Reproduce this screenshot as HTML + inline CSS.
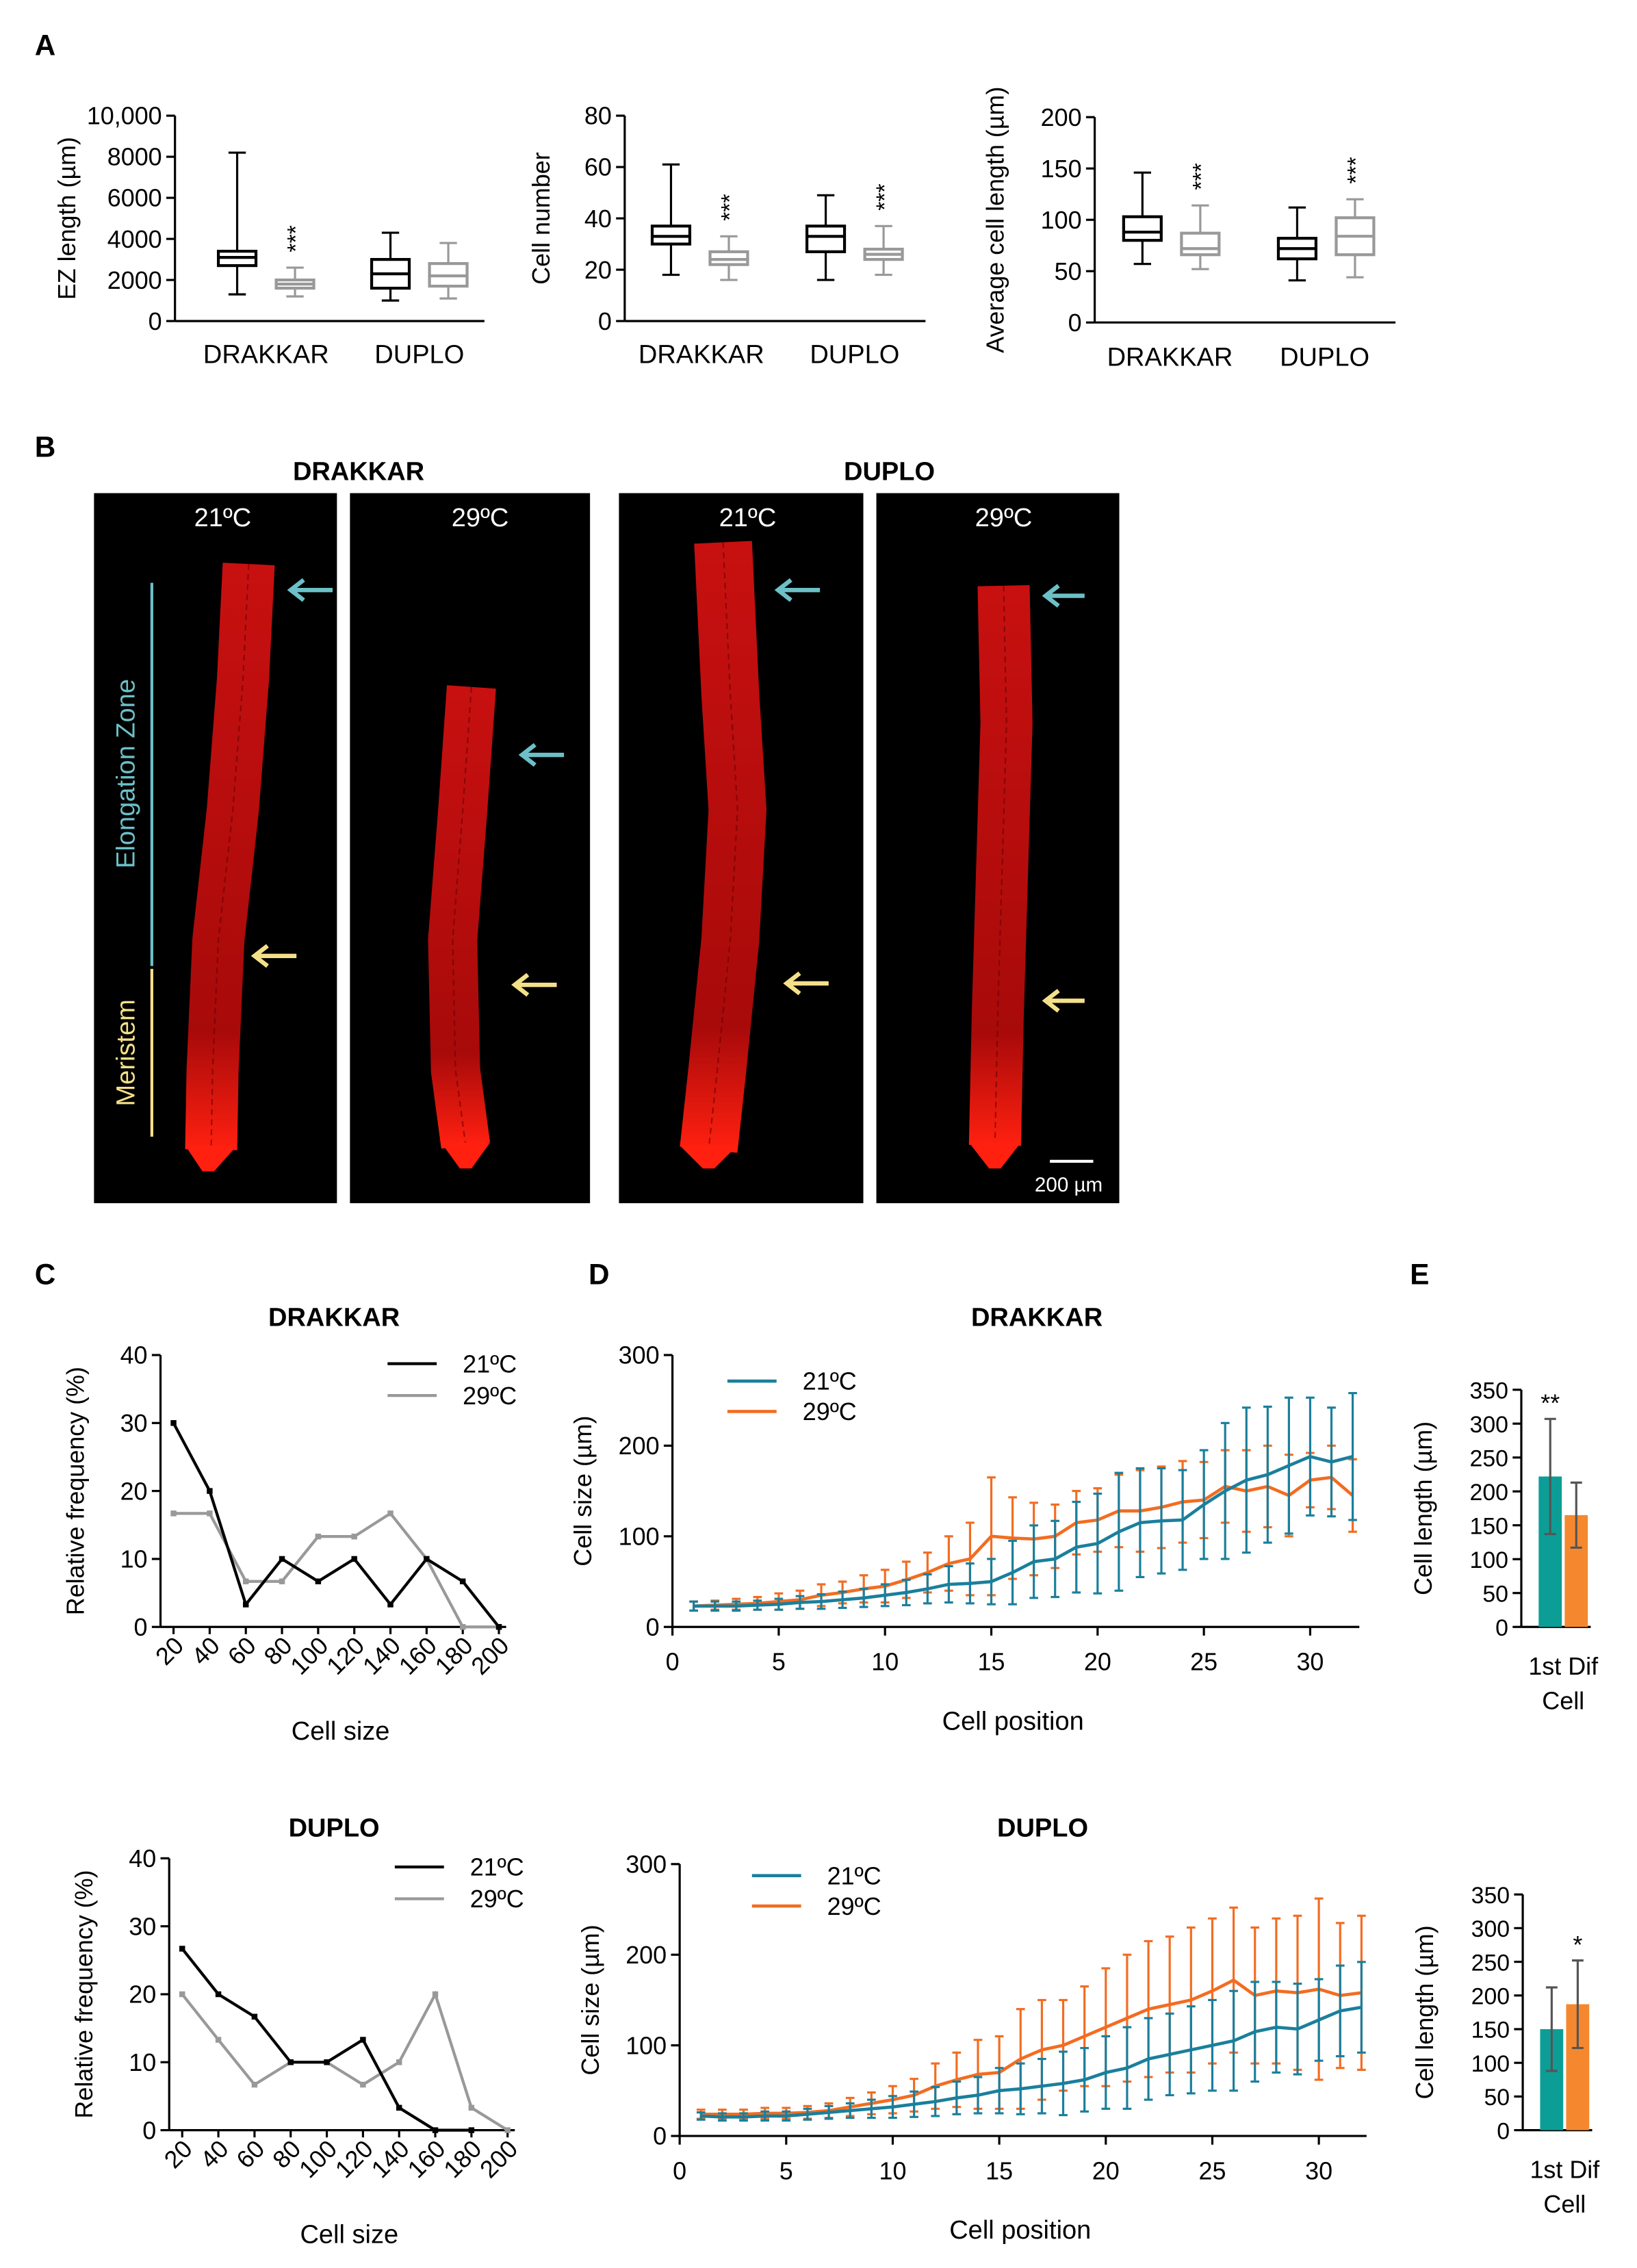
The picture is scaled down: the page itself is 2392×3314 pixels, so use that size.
<!DOCTYPE html>
<html><head><meta charset="utf-8"><style>
html,body{margin:0;padding:0;background:#fff;}
svg{display:block;font-family:"Liberation Sans",Arial,sans-serif;}
</style></head><body>
<svg id="fig" width="2392" height="3314" viewBox="0 0 1132 1568.3" preserveAspectRatio="none" xmlns="http://www.w3.org/2000/svg">
<rect x="0" y="0" width="1132" height="1568.3" fill="#fff"/>
<defs>
<linearGradient id="rootg" x1="0" y1="0" x2="0" y2="1">
<stop offset="0" stop-color="#c81010"/><stop offset="0.8" stop-color="#a80a0a"/><stop offset="1" stop-color="#ff2010"/>
</linearGradient>
</defs>
<g>
<text x="24" y="316" font-size="20" font-weight="bold">B</text>
<text x="248" y="332" font-size="18" font-weight="bold" text-anchor="middle">DRAKKAR</text>
<text x="615" y="332" font-size="18" font-weight="bold" text-anchor="middle">DUPLO</text>
<rect x="65" y="341" width="168" height="491" fill="#000"/>
<rect x="242" y="341" width="166" height="491" fill="#000"/>
<rect x="428" y="341" width="169" height="491" fill="#000"/>
<rect x="606" y="341" width="168" height="491" fill="#000"/>
<text x="154" y="364" font-size="18" fill="#fff" text-anchor="middle">21ºC</text>
<text x="332" y="364" font-size="18" fill="#fff" text-anchor="middle">29ºC</text>
<text x="517" y="364" font-size="18" fill="#fff" text-anchor="middle">21ºC</text>
<text x="694" y="364" font-size="18" fill="#fff" text-anchor="middle">29ºC</text>
<g fill="none" stroke-linejoin="round" stroke-linecap="butt">
<polyline points="172,390 168,470 161,560 151,650 147,740 146,795" stroke="url(#rootg)" stroke-width="36"/>
<polyline points="172,390 168,470 161,560 151,650 147,740 146,795" stroke="#600" stroke-width="1" stroke-dasharray="4 3" opacity="0.6"/>
<polyline points="326,475 320,560 313,650 315,740 322,792" stroke="url(#rootg)" stroke-width="34"/>
<polyline points="326,475 320,560 313,650 315,740 322,792" stroke="#600" stroke-width="1" stroke-dasharray="4 3" opacity="0.6"/>
<polyline points="500,375 505,480 510,560 505,650 496,740 490,795" stroke="url(#rootg)" stroke-width="40"/>
<polyline points="500,375 505,480 510,560 505,650 496,740 490,795" stroke="#600" stroke-width="1" stroke-dasharray="4 3" opacity="0.6"/>
<polyline points="694,405 696,500 693,600 690,700 688,792" stroke="url(#rootg)" stroke-width="36"/>
<polyline points="694,405 696,500 693,600 690,700 688,792" stroke="#600" stroke-width="1" stroke-dasharray="4 3" opacity="0.6"/>
</g>
<polygon points="128,792 164,792 148,810 140,810" fill="#ff2010"/>
<polygon points="305,790 339,790 326,808 318,808" fill="#ff2010"/>
<polygon points="470,792 510,792 494,808 486,808" fill="#ff2010"/>
<polygon points="670,790 706,790 692,808 684,808" fill="#ff2010"/>
<line x1="105" y1="403" x2="105" y2="668" stroke="#6cc0c8" stroke-width="2"/>
<line x1="105" y1="670" x2="105" y2="786" stroke="#f5e08a" stroke-width="2"/>
<text transform="translate(93,535) rotate(-90)" font-size="18" fill="#6cc0c8" text-anchor="middle">Elongation Zone</text>
<text transform="translate(93,728) rotate(-90)" font-size="18" fill="#f5e08a" text-anchor="middle">Meristem</text>
<g stroke="#6cc0c8" stroke-width="3" fill="none">
<path d="M230,408 H202 M210,401 L201,408 L210,415"/>
<path d="M390,522 H362 M370,515 L361,522 L370,529"/>
<path d="M567,408 H539 M547,401 L538,408 L547,415"/>
<path d="M750,412 H724 M732,405 L723,412 L732,419"/>
</g>
<g stroke="#f5e08a" stroke-width="3" fill="none">
<path d="M205,661 H177 M185,654 L176,661 L185,668"/>
<path d="M385,681 H357 M365,674 L356,681 L365,688"/>
<path d="M573,680 H545 M553,673 L544,680 L553,687"/>
<path d="M750,692 H724 M732,685 L723,692 L732,699"/>
</g>
<line x1="726" y1="803" x2="756" y2="803" stroke="#fff" stroke-width="2"/>
<text x="739" y="824" font-size="14" fill="#fff" text-anchor="middle">200 µm</text>
</g>
<g id="dyn"></g>
</svg>
<script>
// ---------- Panel A data ----------
const boxGroups = ["DRAKKAR","DUPLO"];
const ezLength = [[1300,2700,3100,3400,8200],[1200,1600,1800,2000,2600],[1000,1600,2300,3000,4300],[1100,1700,2200,2800,3800]];
const cellNumber = [[18,30,33,37,61],[16,22,24,27,33],[16,27,33,37,49],[18,24,26,28,37]];
const avgCellLen = [[57,80,88,103,146],[52,66,72,87,114],[41,62,72,82,112],[44,66,84,102,120]];
const ezStars = [false,true,false,false];
const cnStars = [false,true,false,true];
const aclStars = [false,true,false,true];
const ezTicks = [0,2000,4000,6000,8000,10000];
const ezTickLabels = ["0","2000","4000","6000","8000","10,000"];
const cnTicks = [0,20,40,60,80];
const aclTicks = [0,50,100,150,200];
// ---------- Panel C data ----------
const sizeCats = [20,40,60,80,100,120,140,160,180,200];
const cDrak21 = [30,20,3.3,10,6.7,10,3.3,10,6.7,0];
const cDrak29 = [16.7,16.7,6.7,6.7,13.3,13.3,16.7,10,0,0];
const cDup21 = [26.7,20,16.7,10,10,13.3,3.3,0,0,null];
const cDup29 = [20,13.3,6.7,10,10,6.7,10,20,3.3,0];
const cTicks = [0,10,20,30,40];
// ---------- Panel D data ----------
const positions = [1,2,3,4,5,6,7,8,9,10,11,12,13,14,15,16,17,18,19,20,21,22,23,24,25,26,27,28,29,30,31,32];
const dDrak21 = [23,23,23,24,25,27,28,30,32,35,38,42,47,48,50,60,72,75,88,92,105,115,117,118,135,150,162,168,178,188,182,188];
const dDrak21Err = [5,5,5,5,6,7,8,9,10,12,14,16,20,22,25,35,40,42,50,55,65,60,58,55,60,75,80,75,75,65,60,70];
const dDrak29 = [23,24,25,26,28,30,35,38,42,45,52,60,70,75,100,98,97,100,115,118,128,128,132,138,140,155,150,155,145,162,165,145];
const dDrak29Err = [5,5,6,7,9,10,12,12,15,18,20,22,30,40,65,45,40,35,35,35,40,45,45,45,42,40,45,45,45,30,35,40];
const dDup21 = [22,21,21,22,22,24,26,28,30,32,35,38,42,45,50,52,55,58,62,70,75,85,90,95,100,105,115,120,118,128,138,142];
const dDup21Err = [4,4,4,5,5,6,7,8,10,12,14,16,18,20,25,28,30,35,35,40,45,45,45,48,50,55,55,50,50,45,50,50];
const dDup29 = [24,24,24,25,25,26,28,32,36,40,45,55,62,68,70,85,95,100,110,120,130,140,145,150,160,172,155,160,158,162,155,158];
const dDup29Err = [5,5,5,6,6,7,8,10,12,15,18,25,30,38,40,55,55,50,55,65,70,75,75,80,80,80,75,80,85,100,80,85];
const dXTicks = [0,5,10,15,20,25,30];
const dYTicks = [0,100,200,300];
// ---------- Panel E data ----------
const eDrakVals = [222,165];
const eDrakErr = [85,48];
const eDupVals = [150,187];
const eDupErr = [62,65];
const eTicks = [0,50,100,150,200,250,300,350];

const NS = "http://www.w3.org/2000/svg";
const root = document.getElementById('dyn');
function mk(tag, attrs){ const e=document.createElementNS(NS,tag); for(const k in attrs) e.setAttribute(k,attrs[k]); root.appendChild(e); return e; }
function txt(x,y,s,size,anchor,extra){ const a=Object.assign({x:x,y:y,'font-size':size,'text-anchor':anchor||'middle',fill:'#000'},extra||{}); const e=mk('text',a); e.textContent=s; return e; }
function line(x1,y1,x2,y2,col,w){ return mk('line',{x1:x1,y1:y1,x2:x2,y2:y2,stroke:col||'#000','stroke-width':w||1.5}); }

let e;
e = txt(24,38,"A",20,'start',{'font-weight':'bold'});


e = txt(24,888,"C",20,'start',{'font-weight':'bold'});


e = txt(407,888,"D",20,'start',{'font-weight':'bold'});


e = txt(975,888,"E",20,'start',{'font-weight':'bold'});



function yAxis(x0,yB,yT,max,ticks,labels,size){
  const sy = v => yB - (v/max)*(yB-yT);
  e = line(x0,yT,x0,yB);
  
  
  ticks.forEach((t,i)=>{
    e = line(x0-6,sy(t),x0,sy(t));
    
    
    e = txt(x0-9,sy(t)+6,labels?labels[i]:String(t),size||17,'end');
    
    
  });
  return sy;
}

function boxChart(x0,yB,yT,max,ticks,labels,xEnd,centers,data,stars,title,titleX,groupX,labelY){
  const sy = yAxis(x0,yB,yT,max,ticks,labels,17);
  e = line(x0,yB,xEnd,yB);
  
  
  data.forEach((d,i)=>{
    const c=centers[i], col = i%2===0?'#000':'#999', w=13;
    e = line(c,sy(d[0]),c,sy(d[1]),col,1.5);
    
    
    e = line(c,sy(d[3]),c,sy(d[4]),col,1.5);
    
    
    e = line(c-6,sy(d[0]),c+6,sy(d[0]),col,1.5);
    
    
    e = line(c-6,sy(d[4]),c+6,sy(d[4]),col,1.5);
    
    
    e = mk('rect',{x:c-w,y:sy(d[3]),width:2*w,height:sy(d[1])-sy(d[3]),fill:'none',stroke:col,'stroke-width':2});
    
    
    e = line(c-w,sy(d[2]),c+w,sy(d[2]),col,2);
    
    
    if(stars[i]){
      e = txt(0,0,"***",16,'middle',{transform:`translate(${c+6},${sy(d[4])-20}) rotate(-90)`});
      
      
    }
  });
  boxGroups.forEach((g,i)=>{
    e = txt(groupX[i],labelY,g,18,'middle');
    
    
  });
  e = txt(0,0,title,17,'middle',{transform:`translate(${titleX},${(yB+yT)/2}) rotate(-90)`});
  
  
}
boxChart(121,222,80,10000,ezTicks,ezTickLabels,335,[164,204,270,310],ezLength,ezStars,"EZ length (µm)",52,[184,290],251);
boxChart(432,222,80,80,cnTicks,null,640,[464,504,571,611],cellNumber,cnStars,"Cell number",380,[485,591],251);
boxChart(757,223,81,200,aclTicks,null,965,[790,830,897,937],avgCellLen,aclStars,"Average cell length (µm)",694,[809,916],253);

function freqChart(x0,yB,yT,xFirst,step,xEnd,s21,s29,title,titleY,legY,legX,ttlY){
  const sy = yAxis(x0,yB,yT,40,cTicks,null,17);
  const sx = i => xFirst + i*step;
  e = line(x0,yB,xEnd,yB);
  
  
  sizeCats.forEach((c,i)=>{
    e = line(sx(i),yB,sx(i),yB+5);
    
    
    e = txt(0,0,String(c),17,'end',{transform:`translate(${sx(i)+8},${yB+14}) rotate(-45)`});
    
    
  });
  [[s29,'#999','series-29c'],[s21,'#000','series-21c']].forEach(([s,col,n])=>{
    let pts=[];
    s.forEach((v,i)=>{ if(v!==null) pts.push(sx(i)+','+sy(v)); });
    e = mk('polyline',{points:pts.join(' '),fill:'none',stroke:col,'stroke-width':2});
    
    
    s.forEach((v,i)=>{ if(v===null) return;
      e = mk('rect',{x:sx(i)-2,y:sy(v)-2,width:4,height:4,fill:col});
      
      
    });
  });
  e = txt(231,ttlY,title,18,'middle',{'font-weight':'bold'});
  
  
  e = txt(0,0,"Relative frequency (%)",17,'middle',{transform:`translate(${x0-53},${(yB+yT)/2}) rotate(-90)`});
  
  
  e = txt((x0+xEnd)/2+5,titleY,"Cell size",18,'middle');
  
  
  [['#000','21ºC',0],['#999','29ºC',22]].forEach(([col,l,dy])=>{
    e = line(legX,legY+dy,legX+34,legY+dy,col,2);
    
    
    e = txt(legX+52,legY+dy+6,l,17,'start');
    
    
  });
}
freqChart(111,1125,937,120,25,350,cDrak21,cDrak29,"DRAKKAR",1203,943,268,917);
freqChart(117,1473,1285,126,25,356,cDup21,cDup29,"DUPLO",1551,1291,273,1270);

function posChart(x0,yB,yT,xMax,xEnd,s21,e21,s29,e29,title,legX,legY,ttlX,ttlY){
  const sy = yAxis(x0,yB,yT,300,dYTicks,null,17);
  const sx = v => x0 + v*(xMax-x0)/30;
  e = line(x0,yB,xEnd,yB);
  
  
  dXTicks.forEach(t=>{
    e = line(sx(t),yB,sx(t),yB+6);
    
    
    e = txt(sx(t),yB+30,String(t),17,'middle');
    
    
  });
  [[s29,e29,'#f36c21','series-29c'],[s21,e21,'#1a7f9c','series-21c']].forEach(([s,er,col,n])=>{
    s.forEach((v,i)=>{
      const x=sx(positions[i]);
      e = line(x,sy(v-er[i]),x,sy(v+er[i]),col,1.5);
      
      
      e = line(x-3,sy(v+er[i]),x+3,sy(v+er[i]),col,1.5);
      
      
      e = line(x-3,sy(v-er[i]),x+3,sy(v-er[i]),col,1.5);
      
      
    });
    e = mk('polyline',{points:s.map((v,i)=>sx(positions[i])+','+sy(v)).join(' '),fill:'none',stroke:col,'stroke-width':2.2});
    
    
  });
  e = txt(ttlX,ttlY,title,18,'middle',{'font-weight':'bold'});
  
  
  e = txt(0,0,"Cell size (µm)",17,'middle',{transform:`translate(${x0-56},${(yB+yT)/2}) rotate(-90)`});
  
  
  e = txt((x0+xEnd)/2-2,yB+71,"Cell position",18,'middle');
  
  
  [['#1a7f9c','21ºC',0],['#f36c21','29ºC',21]].forEach(([col,l,dy])=>{
    e = line(legX,legY+dy,legX+34,legY+dy,col,2.2);
    
    
    e = txt(legX+52,legY+dy+6,l,17,'start');
    
    
  });
}
posChart(465,1125,937,906,940,dDrak21,dDrak21Err,dDrak29,dDrak29Err,"DRAKKAR",503,955,717,917);
posChart(470,1477,1289,912,945,dDup21,dDup21Err,dDup29,dDup29Err,"DUPLO",520,1297,721,1270);

function barChart(x0,yB,yT,vals,errs,stars,starIdx){
  const sy = yAxis(x0,yB,yT,350,eTicks,null,16);
  e = line(x0,yB,x0+48,yB);
  
  
  const cols=['#0c9e96','#f5882e'], cs=[x0+20,x0+38];
  vals.forEach((v,i)=>{
    e = mk('rect',{x:cs[i]-8,y:sy(v),width:16,height:yB-sy(v),fill:cols[i]});
    
    
    e = line(cs[i],sy(v-errs[i]),cs[i],sy(v+errs[i]),'#555',1.5);
    
    
    e = line(cs[i]-4,sy(v+errs[i]),cs[i]+4,sy(v+errs[i]),'#555',1.5);
    
    
    e = line(cs[i]-4,sy(v-errs[i]),cs[i]+4,sy(v-errs[i]),'#555',1.5);
    
    
  });
  e = txt(cs[starIdx],sy(vals[starIdx]+errs[starIdx])-5,stars,17,'middle');
  
  
  e = txt(x0+29,yB+33,"1st Dif",17,'middle');
  
  
  e = txt(x0+29,yB+57,"Cell",17,'middle');
  
  
  e = txt(0,0,"Cell length (µm)",17,'middle',{transform:`translate(${x0-62},${(yB+yT)/2}) rotate(-90)`});
  
  
}
barChart(1052,1125,961,eDrakVals,eDrakErr,"**",0);
barChart(1053,1473,1310,eDupVals,eDupErr,"*",1);
</script>
</body></html>
